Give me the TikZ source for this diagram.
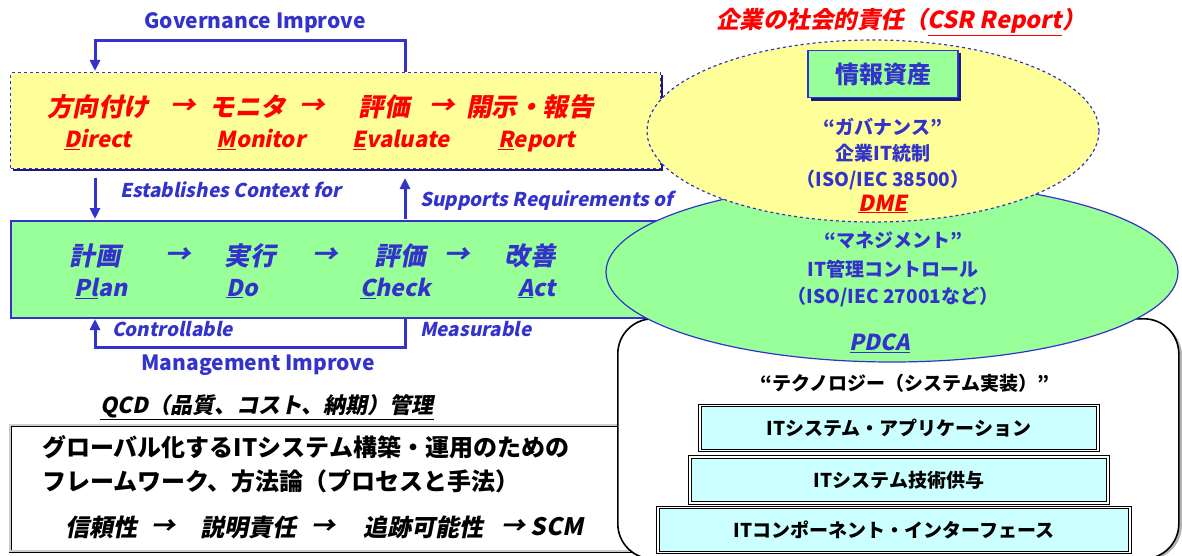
\documentclass[tikz,border=0pt]{standalone}
\usepackage{fontspec}
\setmainfont{Noto Sans CJK JP}
\newfontfamily\slfont{Noto Sans CJK JP}[FakeSlant=0.2]
\usetikzlibrary{arrows.meta,shapes.geometric}
\definecolor{tblue}{HTML}{3333CC}
\definecolor{tred}{HTML}{FF0000}
\definecolor{yfill}{HTML}{FFFF99}
\definecolor{gfill}{HTML}{99FF99}
\definecolor{cfill}{HTML}{CCFFFF}
\definecolor{navy}{HTML}{1A1A80}
\newcommand{\myfs}[1]{\fontsize{#1}{#1}\selectfont}
\begin{document}
\begin{tikzpicture}[x=1pt,y=-1pt,
  txt/.style={inner sep=0pt, font=\bfseries},
  redjp/.style={txt, text=tred, font=\slfont\bfseries\myfs{25.5}},
  redlat/.style={txt, text=tred, font=\slfont\bfseries\myfs{22}, anchor=base},
  bluejp/.style={txt, text=tblue, font=\slfont\bfseries\myfs{25.5}},
  bluelat/.style={txt, text=tblue, font=\slfont\bfseries\myfs{23}, anchor=base},
  bluelbl/.style={txt, text=tblue, font=\slfont\bfseries\myfs{19}, anchor=west},
  bluetitle/.style={txt, text=tblue, font=\bfseries\myfs{21}},
  elltxt/.style={txt, text=tblue, font=\bfseries\myfs{19}},
  blktxt/.style={txt, text=black, font=\bfseries\myfs{24}, anchor=west},
  blkit/.style={txt, text=black, font=\slfont\bfseries\myfs{24}},
  techbox/.style={draw=black, double=white, double distance=1.6pt, line width=0.8pt, fill=cfill, inner sep=0pt, font=\bfseries\myfs{19}},
  loopline/.style={draw=tblue, line width=3pt},
  looparrow/.style={loopline, -{Triangle[length=11pt,width=10pt]}}
]
\useasboundingbox (0,0) rectangle (1182,556);

% --- yellow governance box
\fill[navy] (13,75) rectangle (663,171);
\node[draw=tblue, dashed, line width=1.2pt, fill=yfill, minimum width=650pt, minimum height=96pt, anchor=north west, inner sep=0pt] (ybox) at (10,72) {};

% --- green management box
\fill[navy] (12,222) rectangle (662,319);
\node[draw=tblue, line width=1.5pt, fill=gfill, minimum width=650pt, minimum height=97pt, anchor=north west, inner sep=0pt] (gbox) at (10,220) {};

% --- bottom-left framework box
\node[draw=black, double=gray!40, double distance=2pt, line width=0.8pt, fill=white, minimum width=640pt, minimum height=126pt, anchor=north west, inner sep=0pt] (fbox) at (10,425) {};

% --- technology rounded box
\fill[gray!60, rounded corners=35pt] (620,321) rectangle (1182,560);
\node[draw=black, line width=1.6pt, fill=white, rounded corners=35pt, minimum width=561pt, minimum height=240pt, anchor=north west, inner sep=0pt] (tbox) at (617,318) {};

% --- ellipses
\node[ellipse, draw=tblue, line width=1.2pt, fill=gfill, minimum width=572pt, minimum height=180pt, inner sep=0pt] (mell) at (892,272) {};
\node[ellipse, draw=tblue, dashed, line width=1.2pt, fill=yfill, minimum width=452pt, minimum height=182pt, inner sep=0pt] (gell) at (873,131) {};

% --- info asset box
\fill[navy] (811,53) rectangle (961,101);
\node[draw=tblue, line width=1.5pt, fill=gfill, minimum width=150pt, minimum height=47pt, inner sep=0pt, text=tblue, font=\bfseries\myfs{24}] (info) at (883,74) {情報資産};

% --- loops and arrows
\coordinate (gA) at (405,72);
\coordinate (gB) at (405,41);
\coordinate (gC) at (95,41);
\coordinate (gD) at (95,71);
\draw[looparrow] (gA) -- (gB) -- (gC) -- (gD);

\coordinate (eA) at (95,178);
\coordinate (eB) at (95,219);
\draw[looparrow] (eA) -- (eB);
\coordinate (sA) at (405,219);
\coordinate (sB) at (405,178);
\draw[looparrow] (sA) -- (sB);

\coordinate (mA) at (405,318);
\coordinate (mB) at (405,347);
\coordinate (mC) at (95,347);
\coordinate (mD) at (95,319);
\draw[looparrow] (mA) -- (mB) -- (mC) -- (mD);

% --- titles
\node[bluetitle] (govimp) at (255,23) {Governance Improve};
\node[bluetitle] (mgmtimp) at (258,365) {Management Improve};
\node[txt, text=tred, font=\slfont\bfseries\myfs{23.5}] (csr) at (901,22) {企業の社会的責任（\underline{CSR Report}）};

% --- governance row
\node[redjp] (d1) at (98,107) {方向付け};
\node[redjp] (a1) at (183,107) {→};
\node[redjp] (d2) at (248,107) {モニタ};
\node[redjp] (a2) at (312,107) {→};
\node[redjp] (d3) at (384,107) {評価};
\node[redjp] (a3) at (442,107) {→};
\node[redjp] (d4) at (530,107) {開示・報告};
\node[redlat] (e1) at (98,148) {\underline{D}irect};
\node[redlat] (e2) at (261,148) {\underline{M}onitor};
\node[redlat] (e3) at (401,148) {\underline{E}valuate};
\node[redlat] (e4) at (537,148) {\underline{R}eport};

% --- labels
\node[bluelbl] (est) at (120,190) {Establishes Context for};
\node[bluelbl] (sup) at (420,201) {Supports Requirements of};
\node[bluelbl] (ctl) at (112,329) {Controllable};
\node[bluelbl] (mea) at (420,329) {Measurable};

% --- management row
\node[bluejp] (p1) at (95,256) {計画};
\node[bluejp] (b1) at (178,256) {→};
\node[bluejp] (p2) at (250,256) {実行};
\node[bluejp] (b2) at (325,256) {→};
\node[bluejp] (p3) at (400,256) {評価};
\node[bluejp] (b3) at (457,256) {→};
\node[bluejp] (p4) at (530,256) {改善};
\node[bluelat] (q1) at (101,296) {\underline{Pl}an};
\node[bluelat] (q2) at (242,296) {\underline{D}o};
\node[bluelat] (q3) at (396,296) {\underline{C}heck};
\node[bluelat] (q4) at (537,296) {\underline{A}ct};

% --- QCD and framework text
\node[txt, text=black, font=\slfont\bfseries\myfs{22}, anchor=west] (qcd) at (100,407) {\underline{QCD（品質、コスト、納期）管理}};
\node[blktxt] (f1) at (42,447) {グローバル化するITシステム構築・運用のための};
\node[blktxt] (f2) at (42,481) {フレームワーク、方法論（プロセスと手法）};
\node[blkit] (f3a) at (101,527) {信頼性};
\node[blkit] (f3b) at (163,527) {→};
\node[blkit] (f3c) at (248,527) {説明責任};
\node[blkit] (f3d) at (323,527) {→};
\node[blkit] (f3e) at (423,527) {追跡可能性};
\node[blkit] (f3f) at (513,527) {→};
\node[blkit] (f3g) at (557,527) {SCM};

% --- governance ellipse text
\node[elltxt] (g1) at (883,127) {“ガバナンス”};
\node[elltxt] (g2) at (883,153) {企業IT統制};
\node[elltxt] (g3) at (883,180) {（ISO/IEC 38500）};
\node[txt, text=tred, font=\slfont\bfseries\myfs{22}] (dme) at (883,204) {\underline{DME}};

% --- management ellipse text
\node[elltxt] (m1) at (893,240) {“マネジメント”};
\node[elltxt] (m2) at (893,269) {IT管理コントロール};
\node[elltxt] (m3) at (893,297) {（ISO/IEC 27001など）};
\node[txt, text=tblue, font=\slfont\bfseries\myfs{22}] (pdca) at (880,343) {\underline{PDCA}};

% --- technology
\node[txt, text=black, font=\bfseries\myfs{19}] (tech) at (905,383) {“テクノロジー（システム実装）”};
\node[techbox, minimum width=398pt, minimum height=45pt] (t1) at (899,428) {ITシステム・アプリケーション};
\node[techbox, minimum width=418pt, minimum height=46pt] (t2) at (899,480) {ITシステム技術供与};
\node[techbox, minimum width=472pt, minimum height=45pt] (t3) at (894,530) {ITコンポーネント・インターフェース};
\end{tikzpicture}
\end{document}
